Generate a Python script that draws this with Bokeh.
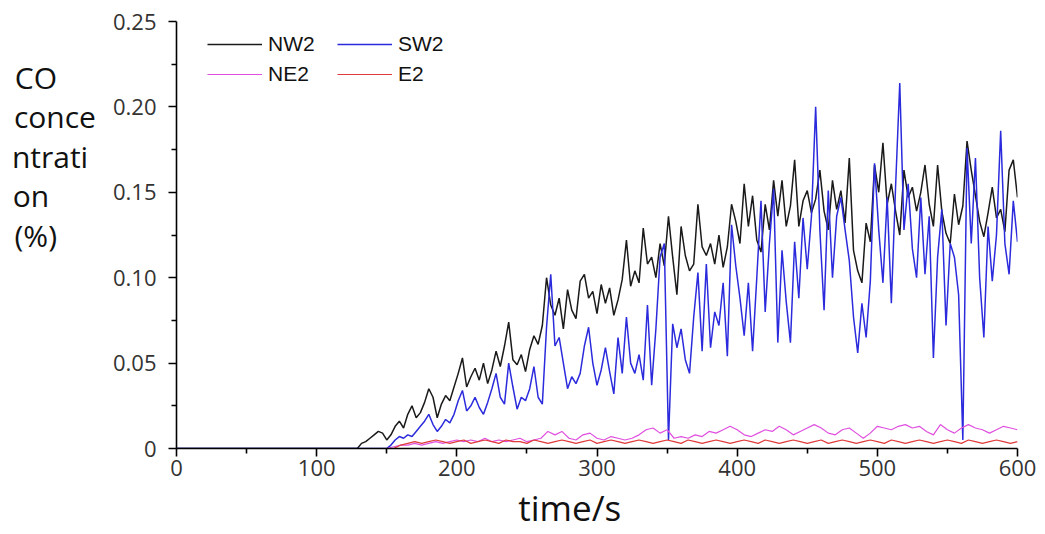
from bokeh.plotting import figure
from bokeh.models import Legend, LegendItem, FixedTicker, Range1d, PrintfTickFormatter
from bokeh.embed import file_html
from bokeh.resources import INLINE

# ---------------- data ----------------
series_names = ["NW2", "SW2", "NE2", "E2"]
x_ticks = [0, 100, 200, 300, 400, 500, 600]
y_ticks = [0, 0.05, 0.10, 0.15, 0.20, 0.25]
y_tick_labels = ["0", "0.05", "0.10", "0.15", "0.20", "0.25"]

nw2_t = [0] + list(range(129, 601, 3))
nw2_v = [0.000,
    0.000, 0.003, 0.004, 0.006, 0.008, 0.010, 0.009, 0.005, 0.008, 0.013,
    0.016, 0.012, 0.020, 0.025, 0.018, 0.021, 0.027, 0.035, 0.030, 0.018,
    0.026, 0.031, 0.028, 0.036, 0.044, 0.053, 0.036, 0.042, 0.047, 0.040,
    0.050, 0.038, 0.046, 0.057, 0.048, 0.060, 0.074, 0.052, 0.049, 0.055,
    0.045, 0.058, 0.066, 0.061, 0.072, 0.100, 0.084, 0.078, 0.088, 0.070,
    0.093, 0.081, 0.076, 0.098, 0.102, 0.088, 0.092, 0.079, 0.096, 0.085,
    0.094, 0.078, 0.087, 0.099, 0.122, 0.095, 0.104, 0.097, 0.129, 0.108,
    0.112, 0.100, 0.120, 0.107, 0.136, 0.112, 0.090, 0.130, 0.113, 0.104,
    0.108, 0.143, 0.118, 0.113, 0.120, 0.108, 0.125, 0.106, 0.118, 0.143,
    0.133, 0.120, 0.155, 0.130, 0.148, 0.122, 0.115, 0.143, 0.128, 0.157,
    0.136, 0.157, 0.130, 0.142, 0.169, 0.130, 0.145, 0.151, 0.138, 0.146,
    0.163, 0.139, 0.128, 0.157, 0.140, 0.151, 0.132, 0.170, 0.116, 0.104,
    0.097, 0.132, 0.121, 0.166, 0.150, 0.179, 0.143, 0.155, 0.139, 0.125,
    0.163, 0.147, 0.153, 0.139, 0.150, 0.166, 0.143, 0.130, 0.166, 0.139,
    0.126, 0.120, 0.149, 0.131, 0.142, 0.180, 0.163, 0.148, 0.133, 0.124,
    0.138, 0.153, 0.135, 0.140, 0.127, 0.163, 0.169, 0.147]

sw2_t = [0] + list(range(150, 601, 3))
sw2_v = [0.000,
    0.000, 0.002, 0.005, 0.007, 0.006, 0.008, 0.007, 0.010, 0.013, 0.016,
    0.020, 0.014, 0.010, 0.013, 0.017, 0.015, 0.020, 0.028, 0.034, 0.022,
    0.025, 0.030, 0.024, 0.020, 0.027, 0.035, 0.044, 0.030, 0.026, 0.050,
    0.036, 0.023, 0.030, 0.028, 0.035, 0.048, 0.030, 0.026, 0.071, 0.102,
    0.060, 0.065, 0.050, 0.035, 0.042, 0.038, 0.044, 0.060, 0.071, 0.050,
    0.037, 0.046, 0.059, 0.045, 0.032, 0.065, 0.044, 0.077, 0.050, 0.044,
    0.055, 0.040, 0.084, 0.037, 0.070, 0.112, 0.120, 0.005, 0.073, 0.059,
    0.070, 0.052, 0.044, 0.077, 0.103, 0.057, 0.108, 0.059, 0.080, 0.072,
    0.097, 0.054, 0.131, 0.107, 0.088, 0.066, 0.097, 0.057, 0.100, 0.145,
    0.080, 0.120, 0.152, 0.062, 0.116, 0.086, 0.062, 0.121, 0.088, 0.135,
    0.105, 0.136, 0.200, 0.128, 0.081, 0.151, 0.100, 0.136, 0.147, 0.128,
    0.110, 0.077, 0.056, 0.085, 0.065, 0.098, 0.167, 0.128, 0.097, 0.147,
    0.085, 0.153, 0.214, 0.128, 0.155, 0.117, 0.100, 0.147, 0.102, 0.136,
    0.053, 0.112, 0.140, 0.072, 0.120, 0.112, 0.090, 0.005, 0.176, 0.120,
    0.170, 0.100, 0.065, 0.130, 0.098, 0.125, 0.186, 0.120, 0.102, 0.145,
    0.121]

ne2_t = [0] + list(range(150, 601, 5))
ne2_v = [0.000,
    0.000, 0.001, 0.002, 0.002, 0.003, 0.002, 0.003, 0.004, 0.003, 0.004,
    0.005, 0.004, 0.005, 0.004, 0.006, 0.004, 0.005, 0.004, 0.005, 0.006,
    0.004, 0.005, 0.006, 0.010, 0.008, 0.010, 0.006, 0.005, 0.008, 0.009,
    0.006, 0.005, 0.007, 0.006, 0.005, 0.006, 0.008, 0.011, 0.012, 0.009,
    0.011, 0.006, 0.007, 0.006, 0.008, 0.007, 0.010, 0.009, 0.011, 0.013,
    0.011, 0.008, 0.007, 0.009, 0.011, 0.010, 0.013, 0.011, 0.008, 0.010,
    0.012, 0.014, 0.012, 0.009, 0.008, 0.011, 0.012, 0.009, 0.006, 0.009,
    0.013, 0.012, 0.011, 0.013, 0.014, 0.012, 0.013, 0.010, 0.008, 0.014,
    0.011, 0.009, 0.012, 0.014, 0.012, 0.011, 0.009, 0.011, 0.013, 0.012,
    0.011]

e2_t = [0] + list(range(155, 601, 5))
e2_v = [0.000,
    0.000, 0.002, 0.003, 0.004, 0.003, 0.004, 0.005, 0.004, 0.003, 0.004,
    0.005, 0.003, 0.004, 0.005, 0.004, 0.003, 0.005, 0.004, 0.004, 0.003,
    0.005, 0.004, 0.003, 0.004, 0.005, 0.004, 0.003, 0.004, 0.005, 0.003,
    0.004, 0.005, 0.004, 0.003, 0.004, 0.005, 0.004, 0.003, 0.004, 0.005,
    0.004, 0.003, 0.005, 0.004, 0.003, 0.004, 0.005, 0.004, 0.003, 0.004,
    0.005, 0.004, 0.003, 0.005, 0.004, 0.003, 0.004, 0.005, 0.004, 0.003,
    0.004, 0.005, 0.003, 0.004, 0.005, 0.004, 0.003, 0.004, 0.005, 0.004,
    0.003, 0.005, 0.004, 0.003, 0.004, 0.005, 0.004, 0.003, 0.004, 0.005,
    0.004, 0.003, 0.005, 0.004, 0.003, 0.004, 0.005, 0.004, 0.003, 0.004]

y_label_lines = ["CO", "conce", "ntrati", "on", "(%)"]
x_label = "time/s"

# ---------------- figure ----------------
p = figure(width=1045, height=534, output_backend="svg", toolbar_location=None,
           x_range=Range1d(0, 600), y_range=Range1d(0, 0.25),
           min_border_left=176, min_border_right=28, min_border_top=21,
           min_border_bottom=86)
p.xgrid.visible = False
p.ygrid.visible = False
p.outline_line_color = None
p.background_fill_color = "white"
p.border_fill_color = "white"

colors = {"NW2": "#1a1a1a", "SW2": "#2b2bdd", "NE2": "#e050e0", "E2": "#e03a3a"}
r_nw2 = p.line(nw2_t, nw2_v, line_color=colors["NW2"], line_width=1.5)
r_sw2 = p.line(sw2_t, sw2_v, line_color=colors["SW2"], line_width=1.5)
r_ne2 = p.line(ne2_t, ne2_v, line_color=colors["NE2"], line_width=1.2)
r_e2 = p.line(e2_t, e2_v, line_color=colors["E2"], line_width=1.2)

for ax in (p.xaxis[0], p.yaxis[0]):
    ax.axis_line_width = 1.6
    ax.axis_line_color = "black"
    ax.major_tick_in = 0
    ax.major_tick_out = 8
    ax.minor_tick_in = 0
    ax.minor_tick_out = 5
    ax.major_tick_line_width = 1.6
    ax.minor_tick_line_width = 1.6
    ax.major_label_text_font = "Open Sans"
    ax.major_label_text_font_size = "22px"
    ax.major_label_text_color = "#333333"
    ax.axis_label_text_font = "Open Sans"
    ax.axis_label_text_font_style = "normal"
    ax.axis_label_text_color = "#111111"

p.xaxis.ticker = FixedTicker(ticks=x_ticks, minor_ticks=[50, 150, 250, 350, 450, 550])
p.yaxis.ticker = FixedTicker(ticks=y_ticks, minor_ticks=[0.025, 0.075, 0.125, 0.175, 0.225])
p.yaxis.formatter = PrintfTickFormatter(format="%.2f")
p.yaxis.major_label_overrides = {0: y_tick_labels[0]}
p.yaxis.major_label_standoff = 12
p.xaxis.major_label_standoff = 3

# x label: trailing spaces shift the visible text a little to the left
p.xaxis.axis_label = x_label + " " * 6
p.xaxis.axis_label_text_font_size = "35px"
p.xaxis.axis_label_standoff = 5

# multi-line horizontal y label; lines padded so they sit flush left,
# trailing blank lines lift the block toward the top
pads = [5, 0, 1, 6, 5]
y_lines = [t + " " * n for t, n in zip(y_label_lines, pads)]
p.yaxis.axis_label = "\n".join(y_lines) + "\n\n\n\n"
p.yaxis.axis_label_orientation = "horizontal"
p.yaxis.axis_label_text_font_size = "30px"
p.yaxis.axis_label_text_line_height = 0.96
p.yaxis.axis_label_standoff = 14

legend_style = dict(glyph_width=55, glyph_height=20, label_standoff=6, spacing=4,
                    padding=0, margin=0, label_text_font="Liberation Sans",
                    label_text_font_size="21px", label_text_color="#111111",
                    border_line_alpha=0, background_fill_alpha=0, label_height=26)
legend_a = Legend(items=[LegendItem(label="NW2", renderers=[r_nw2]),
                         LegendItem(label="NE2", renderers=[r_ne2])],
                  location=(31, 361), **legend_style)
legend_b = Legend(items=[LegendItem(label="SW2", renderers=[r_sw2]),
                         LegendItem(label="E2", renderers=[r_e2])],
                  location=(161, 361), **legend_style)
p.add_layout(legend_a)
p.add_layout(legend_b)

open("out.html", "w").write(file_html(p, INLINE))
